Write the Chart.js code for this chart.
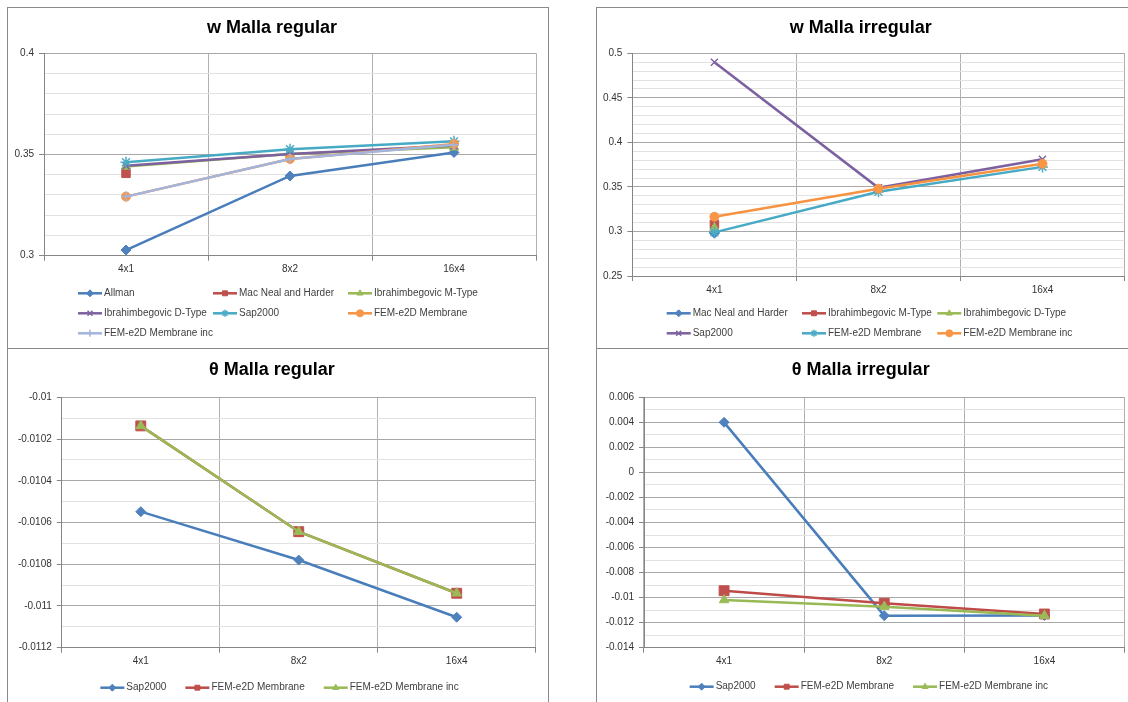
<!DOCTYPE html>
<html>
<head>
<meta charset="utf-8">
<script src="https://cdn.jsdelivr.net/npm/chart.js@4"></script>
<style>
html, body { margin: 0; padding: 0; background: #fff; width: 1128px; height: 702px; overflow: hidden; }
.box { position: absolute; border: 1px solid #8a8a8a; background: #fff; box-sizing: border-box; overflow: hidden; }
.box canvas { display: block; }
</style>
</head>
<body>
<div class="box" style="left:7px;top:7px;width:542px;height:342px"><canvas id="wReg" width="540" height="340"></canvas></div>
<div class="box" style="left:596px;top:7px;width:546px;height:342px"><canvas id="wIrr" width="544" height="340"></canvas></div>
<div class="box" style="left:7px;top:348px;width:542px;height:370px"><canvas id="thReg" width="540" height="368"></canvas></div>
<div class="box" style="left:596px;top:348px;width:546px;height:370px"><canvas id="thIrr" width="544" height="368"></canvas></div>
<script>
// mesh sizes
const meshes = ['4x1', '8x2', '16x4'];

// w, regular mesh
const wRegAllman = [0.3028, 0.3394, 0.3510];
const wRegMacNeal = [0.3407, null, null];
const wRegIbraM = [0.3441, 0.3502, 0.3536];
const wRegIbraD = [0.3445, 0.3503, 0.3544];
const wRegSap = [0.3462, 0.3526, 0.3565];
const wRegFem = [0.3292, 0.3478, 0.3552];
const wRegFemInc = [0.3292, 0.3478, 0.3548];
const wRegTicks = ['0.3', '0.35', '0.4'];

// w, irregular mesh
const wIrrMacNeal = [0.298, null, null];
const wIrrIbraM = [0.308, null, null];
const wIrrIbraD = [0.304, null, null];
const wIrrSap = [0.490, 0.349, 0.381];
const wIrrFem = [0.299, 0.3445, 0.3725];
const wIrrFemInc = [0.3165, 0.348, 0.376];
const wIrrTicks = ['0.25', '0.3', '0.35', '0.4', '0.45', '0.5'];

// theta, regular mesh
const thRegSap = [-0.010548, -0.01078, -0.011054];
const thRegFem = [-0.010137, -0.010644, -0.010939];
const thRegFemInc = [-0.010137, -0.010644, -0.010939];
const thRegTicks = ['-0.0112', '-0.011', '-0.0108', '-0.0106', '-0.0104', '-0.0102', '-0.01'];

// theta, irregular mesh
const thIrrSap = [0.004, -0.01144, -0.01142];
const thIrrFem = [-0.00945, -0.01045, -0.01131];
const thIrrFemInc = [-0.01019, -0.01072, -0.01144];
const thIrrTicks = ['-0.014', '-0.012', '-0.01', '-0.008', '-0.006', '-0.004', '-0.002', '0', '0.002', '0.004', '0.006'];

const FONT = '"Liberation Sans", Arial, sans-serif';

// excel-ish series looks
const looks = {
    blue:     { line: '#4A7EBB', fill: '#4F81BD', style: 'rectRot', r: 5 },
    red:      { line: '#BE4B48', fill: '#C0504D', style: 'rect', r: 6 },
    green:    { line: '#98B954', fill: '#9BBB59', style: 'triangle', r: 5.5 },
    purple:   { line: '#7D60A0', fill: '#8064A2', style: 'crossRot', r: 5, bw: 1.5 },
    teal:     { line: '#46AAC5', fill: '#4BACC6', style: 'star', r: 5.5, bw: 1.5 },
    orange:   { line: '#F69240', fill: '#F79646', style: 'circle', r: 4.5 },
    lavender: { line: '#A3B5DD', fill: '#A3B5DD', style: 'cross', r: 5, bw: 1.5 }
};

function series(label, data, look, big) {
    const l = looks[look];
    return {
        label: label,
        data: data,
        borderColor: l.line,
        backgroundColor: l.fill,
        borderWidth: 2.5,
        pointStyle: l.style,
        pointRadius: big ? l.r + 1 : l.r,
        pointBackgroundColor: l.fill,
        pointBorderColor: l.fill,
        pointBorderWidth: l.bw || 1,
        tension: 0
    };
}

function fmt(v) {
    return String(+v.toFixed(7));
}

// line + marker legend laid out like Excel's
const excelLegend = {
    id: 'excelLegend',
    afterDraw(chart, args, opts) {
        const ctx = chart.ctx;
        const sets = chart.data.datasets;
        const lineLen = 24;
        ctx.save();
        ctx.font = '10px ' + FONT;
        ctx.textBaseline = 'middle';
        const pos = [];
        if (opts.cols) {
            sets.forEach((ds, i) => {
                pos.push([opts.x + (i % opts.cols) * opts.colW, opts.y + Math.floor(i / opts.cols) * opts.rowH]);
            });
        } else {
            const widths = sets.map(ds => lineLen + 2 + ctx.measureText(ds.label).width);
            const total = widths.reduce((a, b) => a + b, 0) + opts.gap * (widths.length - 1);
            let x = opts.cx - total / 2;
            widths.forEach(w => { pos.push([x, opts.y]); x += w + opts.gap; });
        }
        sets.forEach((ds, i) => {
            const [x, y] = pos[i];
            ctx.strokeStyle = ds.borderColor;
            ctx.lineWidth = 2.5;
            ctx.beginPath();
            ctx.moveTo(x, y);
            ctx.lineTo(x + lineLen, y);
            ctx.stroke();
            ctx.fillStyle = ds.pointBackgroundColor;
            ctx.strokeStyle = ds.pointBorderColor;
            ctx.lineWidth = ds.pointBorderWidth;
            Chart.helpers.drawPoint(ctx, { pointStyle: ds.pointStyle, radius: 3.5, rotation: 0, borderWidth: ds.pointBorderWidth }, x + lineLen / 2, y);
            ctx.fillStyle = '#404040';
            ctx.fillText(ds.label, x + lineLen + 2, y);
        });
        ctx.restore();
    }
};

function makeChart(id, title, datasets, yMin, yMax, yStep, majors, box) {
    // later series are painted over earlier ones, as in Excel
    datasets.forEach((ds, i) => { ds.order = -i; });
    new Chart(document.getElementById(id), {
        type: 'line',
        data: { labels: meshes, datasets: datasets },
        plugins: [excelLegend],
        options: {
            responsive: false,
            animation: false,
            layout: { padding: { left: 0, top: 0, right: box.pr, bottom: box.pb } },
            plugins: {
                legend: { display: false },
                tooltip: { enabled: false },
                title: {
                    display: true,
                    text: title,
                    color: '#000',
                    font: { family: FONT, size: 18, weight: 'bold' },
                    padding: { top: box.tt, bottom: box.tb }
                },
                excelLegend: box.legend
            },
            scales: {
                x: {
                    offset: true,
                    grid: { offset: true, color: '#b0b0b0', tickColor: '#868686', tickLength: 5 },
                    border: { color: '#868686' },
                    ticks: { color: '#333', font: { family: FONT, size: 10 }, padding: 3, maxRotation: 0 },
                    afterFit: s => { s.height = 30; }
                },
                y: {
                    min: yMin,
                    max: yMax,
                    grid: {
                        color: c => majors.includes(fmt(c.tick.value)) ? '#a8a8a8' : '#e2e2e2',
                        tickColor: c => majors.includes(fmt(c.tick.value)) ? '#868686' : 'rgba(0,0,0,0)',
                        tickLength: 5
                    },
                    border: { color: '#868686' },
                    ticks: {
                        stepSize: yStep,
                        autoSkip: false,
                        color: '#333',
                        font: { family: FONT, size: 10 },
                        padding: 5,
                        callback: v => majors.includes(fmt(v)) ? fmt(v) : ''
                    },
                    afterFit: s => { s.width = box.left; }
                }
            }
        }
    });
}

makeChart('wReg', 'w Malla regular', [
    series('Allman', wRegAllman, 'blue'),
    series('Mac Neal and Harder', wRegMacNeal, 'red'),
    series('Ibrahimbegovic M-Type', wRegIbraM, 'green'),
    series('Ibrahimbegovic D-Type', wRegIbraD, 'purple'),
    series('Sap2000', wRegSap, 'teal'),
    series('FEM-e2D Membrane', wRegFem, 'orange'),
    series('FEM-e2D Membrane inc', wRegFemInc, 'lavender')
], 0.3, 0.4, 0.01, wRegTicks,
{ left: 36, pr: 12, pb: 62.3, tt: 9.5, tb: 14.2, legend: { cols: 3, x: 70, colW: 135, y: 285.3, rowH: 20 } });

makeChart('wIrr', 'w Malla irregular', [
    series('Mac Neal and Harder', wIrrMacNeal, 'blue'),
    series('Ibrahimbegovic M-Type', wIrrIbraM, 'red'),
    series('Ibrahimbegovic D-Type', wIrrIbraD, 'green'),
    series('Sap2000', wIrrSap, 'purple'),
    series('FEM-e2D Membrane', wIrrFem, 'teal'),
    series('FEM-e2D Membrane inc', wIrrFemInc, 'orange')
], 0.25, 0.5, 0.01, wIrrTicks,
{ left: 35.4, pr: 16.5, pb: 42, tt: 9.5, tb: 14.2, legend: { cols: 3, x: 69.7, colW: 135.3, y: 305.3, rowH: 20 } });

makeChart('thReg', 'θ Malla regular', [
    series('Sap2000', thRegSap, 'blue'),
    series('FEM-e2D Membrane', thRegFem, 'red', true),
    series('FEM-e2D Membrane inc', thRegFemInc, 'green')
], -0.0112, -0.01, 0.0001, thRegTicks,
{ left: 53.8, pr: 12.3, pb: 39.3, tt: 10.5, tb: 16.2, legend: { gap: 19, cx: 271.5, y: 338.7 } });

makeChart('thIrr', 'θ Malla irregular', [
    series('Sap2000', thIrrSap, 'blue'),
    series('FEM-e2D Membrane', thIrrFem, 'red', true),
    series('FEM-e2D Membrane inc', thIrrFemInc, 'green')
], -0.014, 0.006, 0.001, thIrrTicks,
{ left: 47, pr: 16.5, pb: 39.3, tt: 10.5, tb: 16.2, legend: { gap: 19, cx: 271.8, y: 337.7 } });
</script>
</body>
</html>
